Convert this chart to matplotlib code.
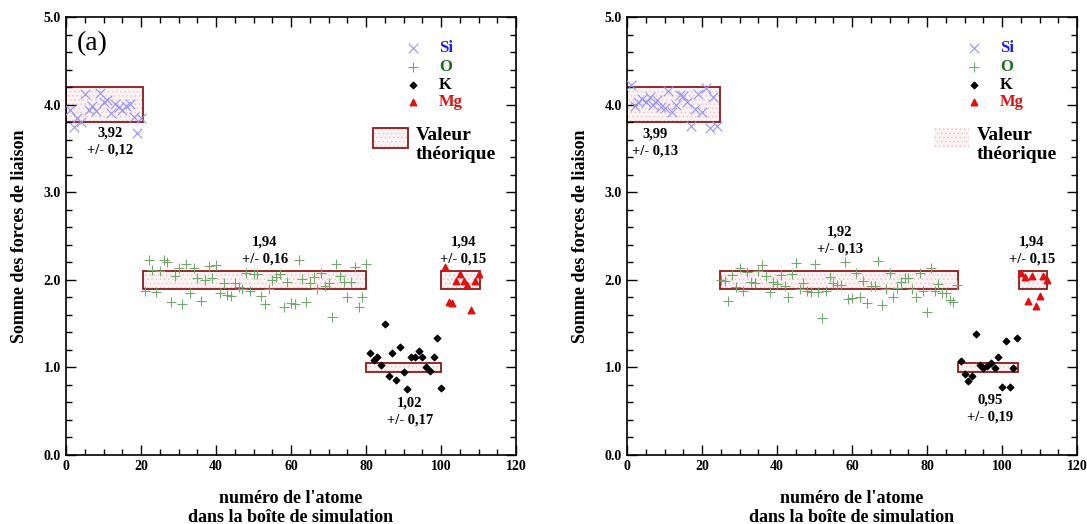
import numpy as np
import matplotlib
matplotlib.use("Agg")
import matplotlib.pyplot as plt
from matplotlib.patches import Rectangle
from matplotlib.ticker import MultipleLocator, FormatStrFormatter

plt.rcParams['font.family'] = ['Liberation Serif', 'DejaVu Serif']
plt.rcParams['font.weight'] = 'bold'
plt.rcParams['hatch.linewidth'] = 0.5

# ---------------- data: panel (a) ----------------
si_a_x = list(range(1, 21))
si_a_y = [3.94, 3.74, 3.85, 3.80, 4.12, 3.94, 3.98, 3.93, 4.13, 4.03,
          4.05, 3.90, 4.01, 3.97, 3.94, 3.98, 4.01, 3.86, 3.68, 3.85]
o_a_x = list(range(21, 81))
o_a_y = [1.87, 2.23, 2.11, 1.86, 2.10, 2.23, 2.20, 1.75, 2.04, 2.14,
         1.72, 2.18, 1.85, 2.13, 2.02, 1.76, 2.00, 2.16, 2.02, 2.17,
         1.85, 1.96, 1.83, 1.81, 1.96, 1.92, 1.89, 2.08, 1.87, 2.07,
         2.07, 1.81, 1.72, 1.89, 2.00, 2.03, 2.07, 1.69, 1.97, 1.74,
         1.72, 2.23, 2.01, 1.75, 1.96, 2.03, 1.89, 2.08, 1.93, 1.96,
         1.58, 2.18, 2.04, 1.97, 1.80, 1.97, 2.15, 1.69, 1.80, 2.18]
k_a_x = list(range(81, 101))
k_a_y = [1.17, 1.08, 1.12, 1.03, 1.50, 0.90, 1.16, 0.86, 1.23, 0.95,
         0.75, 1.12, 1.12, 1.19, 1.12, 1.00, 0.96, 1.12, 1.34, 0.77]
mg_a_x = list(range(101, 111))
mg_a_y = [2.15, 1.75, 1.74, 1.99, 2.07, 1.99, 1.94, 1.65, 1.99, 2.07]

# theoretical boxes (x0, x1, y0, y1)
box_a = [(0, 20.5, 3.8, 4.2), (20.5, 80, 1.9, 2.1), (80, 100, 0.95, 1.05), (100, 110.5, 1.9, 2.1)]
ann_a = [(11.7, 3.58, "3,92\n+/- 0,12"), (53, 2.33, "1,94\n+/- 0,16"),
         (91.7, 0.50, "1,02\n+/- 0,17"), (106, 2.33, "1,94\n+/- 0,15")]

# ---------------- data: panel (b) ----------------
si_b_x = list(range(1, 25))
si_b_y = [4.22, 3.98, 4.03, 4.06, 4.03, 4.09, 4.00, 4.05, 3.97, 3.96,
          4.16, 3.91, 4.00, 4.11, 4.10, 4.03, 3.76, 3.95, 4.12, 3.91,
          4.19, 3.73, 4.09, 3.76]
o_b_x = list(range(25, 89))
o_b_y = [2.00, 1.99, 1.76, 2.05, 1.92, 2.14, 1.87, 2.09, 1.97, 1.96,
         2.10, 2.17, 2.04, 1.86, 1.98, 1.95, 2.05, 1.93, 1.80, 2.07,
         2.19, 1.89, 1.96, 1.87, 1.86, 2.18, 1.86, 1.56, 1.87, 2.03,
         1.96, 1.94, 1.94, 2.20, 1.78, 1.79, 2.08, 1.80, 1.99, 1.74,
         1.93, 1.93, 2.22, 1.71, 1.89, 2.08, 1.80, 1.91, 1.97, 2.02,
         2.02, 1.89, 1.80, 2.08, 1.87, 1.63, 2.13, 1.87, 1.95, 1.85,
         1.85, 1.77, 1.75, 1.94]
k_b_x = list(range(89, 105))
k_b_y = [1.07, 0.92, 0.85, 0.90, 1.38, 1.03, 0.99, 1.02, 1.05, 0.99,
         1.12, 0.78, 1.30, 0.78, 0.99, 1.34]
mg_b_x = list(range(105, 113))
mg_b_y = [2.08, 2.03, 1.76, 2.04, 1.70, 1.82, 2.04, 2.00]

box_b = [(0, 24.8, 3.8, 4.2), (24.8, 88.3, 1.9, 2.1), (88.3, 104.3, 0.95, 1.05), (104.5, 112, 1.9, 2.1)]
ann_b = [(7.5, 3.57, "3,99\n+/- 0,13"), (56.8, 2.45, "1,92\n+/- 0,13"),
         (96.8, 0.53, "0,95\n+/- 0,19"), (108, 2.33, "1,94\n+/- 0,15")]

legend_names = ["Si", "O", "K", "Mg"]
legend_colors = ["#2020e0", "#1a6e1a", "#000000", "#e01010"]

EDGE = '#8b1a1a'
FACE = '#fbf3f3'
HATCH = '#e6c4c4'
SI_C = '#9494f2'
O_C = '#70a870'

fig = plt.figure(figsize=(10.87, 5.24), dpi=100)
axA = fig.add_axes([66/1087, 1-455/524, 450/1087, 438/524])
axB = fig.add_axes([627/1087, 1-455/524, 450/1087, 438/524])


def hatched_box(ax, x0, y0, w, h, edge, zorder=1):
    ax.add_patch(Rectangle((x0, y0), w, h, facecolor=FACE, edgecolor=HATCH,
                           hatch='....', lw=0, zorder=zorder))
    if edge:
        ax.add_patch(Rectangle((x0, y0), w, h, facecolor='none', edgecolor=EDGE,
                               lw=1.3, zorder=zorder + 0.1))


def draw(ax, si, o, k, mg, boxes, anns, legend_edge, label_a):
    for (x0, x1, y0, y1) in boxes:
        hatched_box(ax, x0, y0, x1 - x0, y1 - y0, True)
    ax.scatter(si[0], si[1], marker='x', s=48, color=SI_C, lw=0.8, zorder=3)
    ax.scatter(o[0], o[1], marker='+', s=60, color=O_C, lw=0.8, zorder=3)
    ax.scatter(k[0], k[1], marker='D', s=11, color='black', zorder=4)
    ax.scatter(mg[0], mg[1], marker='^', s=22, color='#e01010', zorder=4)
    for (x, y, t) in anns:
        ax.text(x, y, t, ha='center', va='center', fontsize=10.5, fontweight='bold',
                linespacing=1.4, zorder=5)
    # legend
    lx, tx = 92.6, 99.5
    ly = [4.65, 4.43, 4.22, 4.03]
    ax.scatter([lx], [ly[0]], marker='x', s=48, color=SI_C, lw=0.8)
    ax.scatter([lx], [ly[1]], marker='+', s=60, color=O_C, lw=0.8)
    ax.scatter([lx], [ly[2]], marker='D', s=11, color='black')
    ax.scatter([lx], [ly[3]], marker='^', s=22, color='#e01010')
    for y, name, c in zip(ly, legend_names, legend_colors):
        ax.text(tx, y, name, color=c, fontsize=12, fontweight='bold', va='center', ha='left')
    hatched_box(ax, 81.8, 3.5, 9.4, 0.23, legend_edge)
    ax.text(93.3, 3.54, "Valeur\nthéorique", fontsize=14, fontweight='bold',
            va='center', ha='left', linespacing=1.1)
    if label_a:
        ax.text(3, 4.7, "(a)", fontsize=20, fontweight='normal', va='center', ha='left')

    ax.set_xlim(0, 120)
    ax.set_ylim(0, 5)
    ax.xaxis.set_major_locator(MultipleLocator(20))
    ax.xaxis.set_minor_locator(MultipleLocator(5))
    ax.yaxis.set_major_locator(MultipleLocator(1))
    ax.yaxis.set_minor_locator(MultipleLocator(0.2))
    ax.yaxis.set_major_formatter(FormatStrFormatter('%.1f'))
    ax.tick_params(which='both', direction='in', top=True, right=True, width=1.0)
    ax.tick_params(which='major', length=7, labelsize=10)
    ax.tick_params(which='minor', length=4)
    for lab in ax.get_xticklabels() + ax.get_yticklabels():
        lab.set_fontweight('bold')
    for s in ax.spines.values():
        s.set_linewidth(1.2)
    ax.set_xlabel("numéro de l'atome\ndans la boîte de simulation", fontsize=13,
                  fontweight='bold', linespacing=1.2, labelpad=12)
    ax.set_ylabel("Somme des forces de liaison", fontsize=13, fontweight='bold', labelpad=11)


draw(axA, (si_a_x, si_a_y), (o_a_x, o_a_y), (k_a_x, k_a_y), (mg_a_x, mg_a_y),
     box_a, ann_a, True, True)
draw(axB, (si_b_x, si_b_y), (o_b_x, o_b_y), (k_b_x, k_b_y), (mg_b_x, mg_b_y),
     box_b, ann_b, False, False)

fig.savefig("out.png", dpi=100)
